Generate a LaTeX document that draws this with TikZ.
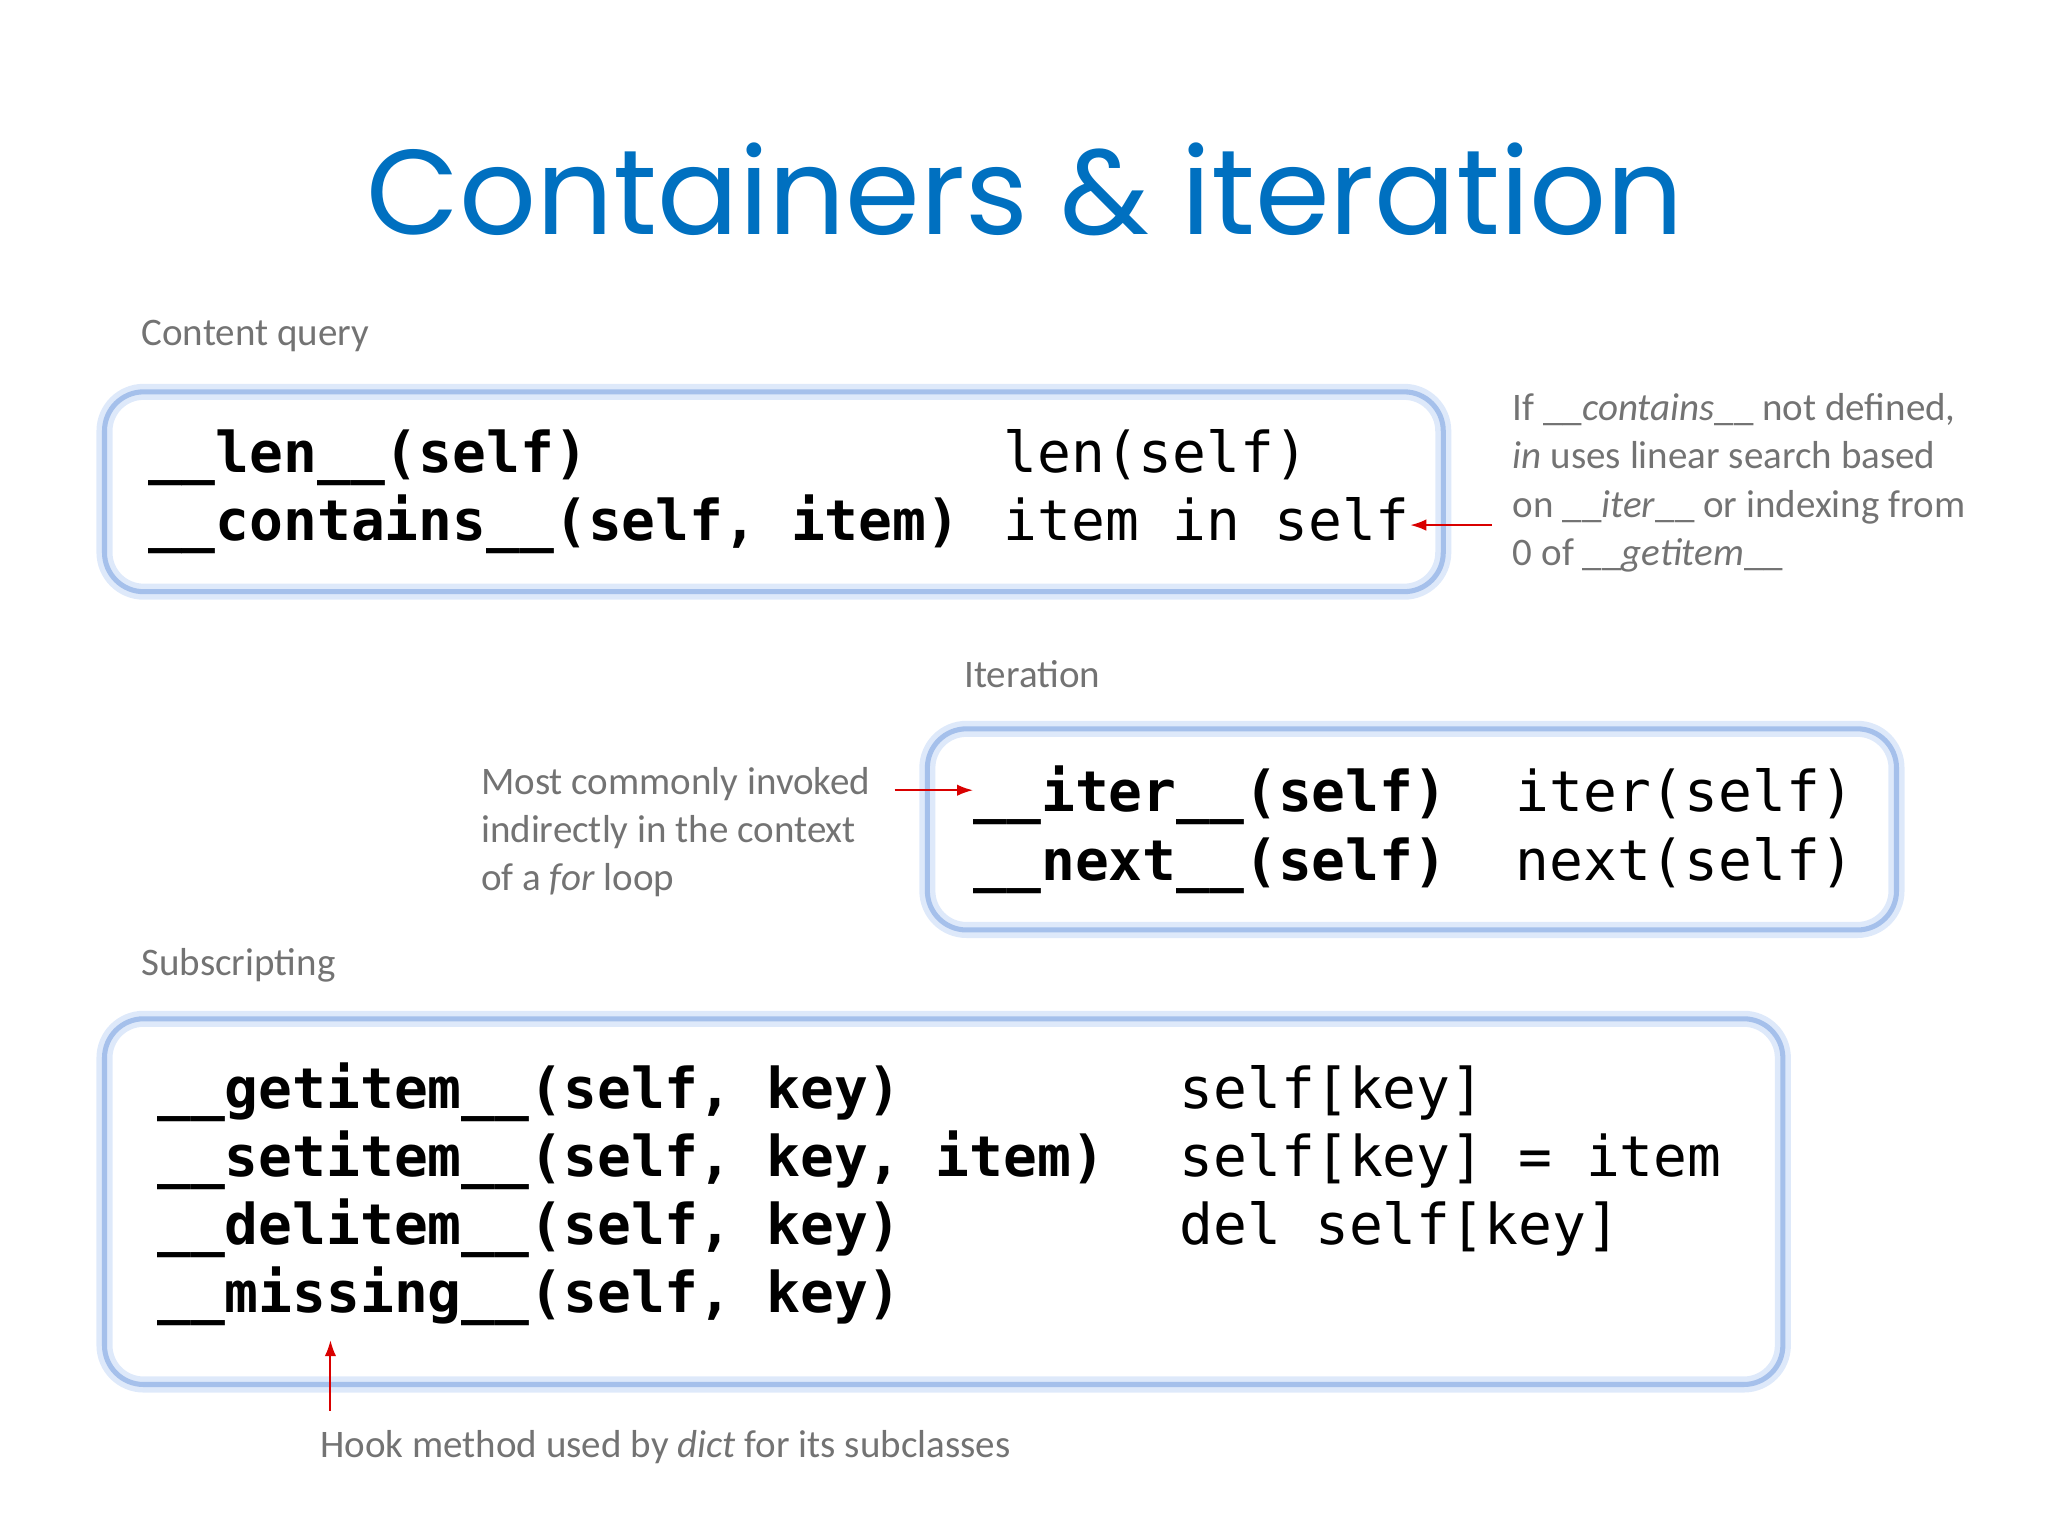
\documentclass[tikz,border=0pt]{standalone}
\usepackage{fontspec}
\setmainfont{Carlito}
\setsansfont{Poppins}
\setmonofont{DejaVu Sans Mono}
\usetikzlibrary{arrows.meta}
\definecolor{titleblue}{RGB}{0,112,192}
\definecolor{edgeblue}{RGB}{165,192,235}
\definecolor{haloblue}{RGB}{222,233,250}

\begin{document}
\begin{tikzpicture}[x=0.02cm,y=-0.02cm,
    note/.style={text=black!55,font=\fontsize{17}{21}\selectfont,align=left,inner sep=0pt},
    code/.style={anchor=base west,inner sep=0pt,font=\fontsize{24.5}{28}\selectfont\ttfamily},
    box/.style={draw=edgeblue,line width=2.2pt,rounded corners=0.6cm},
    glow/.style={draw=haloblue,line width=7pt,rounded corners=0.6cm},
    hint/.style={red!85!black,line width=0.9pt,-{Latex[length=7pt,width=5pt]}}]
    \useasboundingbox (0,0) rectangle (1568,1176);
    \node[text=titleblue,font=\fontsize{52.5}{60}\selectfont\sffamily] (title)
        at (785,145) {Containers \& iteration};
    % content query
    \node[note,anchor=west] (cq) at (108,257) {Content query};
    \draw[glow] (80,300) rectangle (1105,453);
    \draw[box] (80,300) rectangle (1105,453);
    \node[code] (len) at (113,362) {\textbf{\_\_len\_\_(self)}};
    \node[code] (cont) at (113,414) {\textbf{\_\_contains\_\_(self, item)}};
    \node[code] (lenc) at (768,362) {len(self)};
    \node[code] (contc) at (768,414) {item in self};
    \node[note,anchor=north west] (cnote) at (1158,301)
        {If \_\_\textit{contains}\_\_ not defined,\\\textit{in} uses linear search based\\on \_\_\textit{iter}\_\_ or indexing from\\0 of \_\_\textit{getitem}\_\_};
    \coordinate (c1) at (1142,402);
    \draw[hint] (c1) -- (contc.east |- c1);
    % iteration
    \node[note,anchor=west] (it) at (738,516) {Iteration};
    \draw[glow] (710,558) rectangle (1452,712);
    \draw[box] (710,558) rectangle (1452,712);
    \node[code] (iter) at (745,621) {\textbf{\_\_iter\_\_(self)}};
    \node[code] (next) at (745,674) {\textbf{\_\_next\_\_(self)}};
    \node[code] (iterc) at (1160,621) {iter(self)};
    \node[code] (nextc) at (1160,674) {next(self)};
    \node[note,anchor=north west] (inote) at (368,587)
        {Most commonly invoked\\indirectly in the context\\of a \textit{for} loop};
    \coordinate (c2) at (685,605);
    \draw[hint] (c2) -- (iter.west |- c2);
    % subscripting
    \node[note,anchor=west] (sub) at (108,739) {Subscripting};
    \draw[glow] (80,780) rectangle (1365,1060);
    \draw[box] (80,780) rectangle (1365,1060);
    \node[code] (get) at (120,849) {\textbf{\_\_getitem\_\_(self, key)}};
    \node[code] (set) at (120,901) {\textbf{\_\_setitem\_\_(self, key, item)}};
    \node[code] (del) at (120,953) {\textbf{\_\_delitem\_\_(self, key)}};
    \node[code] (miss) at (120,1005) {\textbf{\_\_missing\_\_(self, key)}};
    \node[code] (getc) at (903,849) {self[key]};
    \node[code] (setc) at (903,901) {self[key] = item};
    \node[code] (delc) at (903,953) {del self[key]};
    \node[note,anchor=west] (snote) at (245,1108) {Hook method used by \textit{dict} for its subclasses};
    \coordinate (c3) at (253,1080);
    \draw[hint] (c3) -- (253,1026);
\end{tikzpicture}
\end{document}
